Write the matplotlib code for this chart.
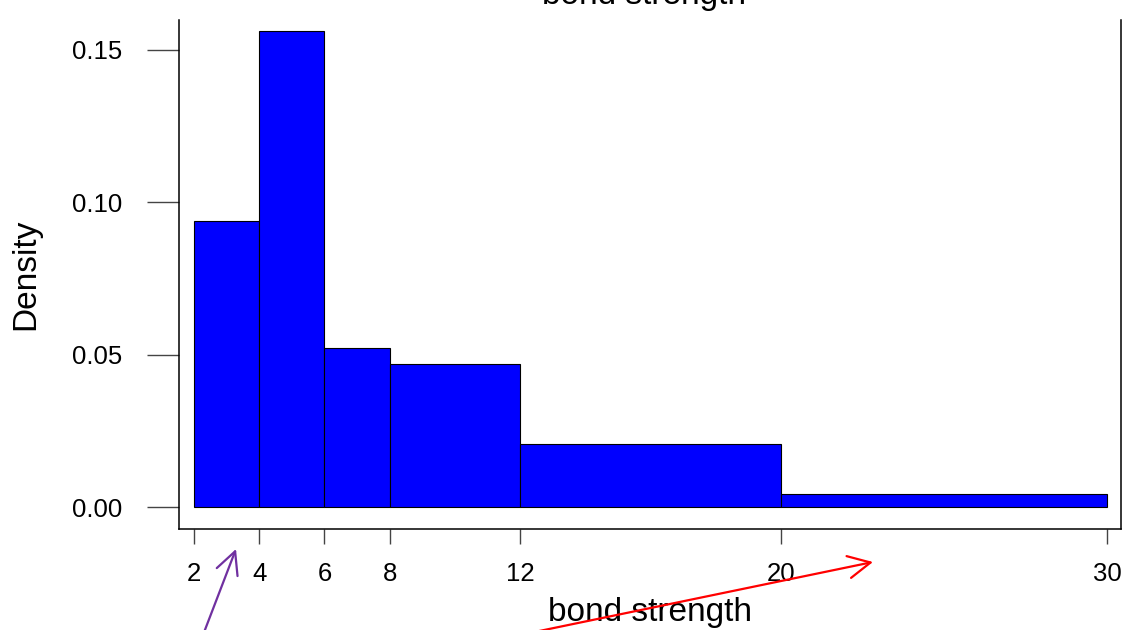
import numpy as np
import matplotlib
matplotlib.use("Agg")
import matplotlib.pyplot as plt

# histogram bins (unequal widths) and densities
bin_edges = [2, 4, 6, 8, 12, 20, 30]
densities = [0.09375, 0.15625, 0.0521, 0.0469, 0.0208, 0.0042]
x_ticks = [2, 4, 6, 8, 12, 20, 30]
y_ticks = [0.00, 0.05, 0.10, 0.15]
y_tick_labels = ["0.00", "0.05", "0.10", "0.15"]

plt.rcParams['font.family'] = ['Liberation Sans', 'DejaVu Sans']

W, H = 1124, 630
fig = plt.figure(figsize=(W / 100, H / 100), dpi=100)
ax = fig.add_axes([179 / W, (H - 529) / H, (1121 - 179) / W, (529 - 20) / H])

lefts = np.array(bin_edges[:-1])
widths = np.diff(bin_edges)
ax.bar(lefts, densities, width=widths, align='edge',
       color='#0000ff', edgecolor='black', linewidth=0.8)

ax.set_xlim(2 - 15 / 32.61, 30 + 14 / 32.61)
ax.set_ylim(-22 / 3046.7, 0.15 + 30 / 3046.7)

ax.set_xticks(x_ticks)
ax.set_xticklabels([str(t) for t in x_ticks])
ax.set_yticks(y_ticks)
ax.set_yticklabels(y_tick_labels)
ax.tick_params(axis='x', length=11, width=1, color='#444444', pad=13, labelsize=18.5)
ax.tick_params(axis='y', length=23, width=1, color='#444444', pad=18, labelsize=18.5)
for s in ax.spines.values():
    s.set_linewidth(1.1)
    s.set_color('black')
ax.spines['top'].set_visible(False)

ax.set_xlabel('bond strength', fontsize=24, labelpad=8)
ax.set_ylabel('Density', fontsize=24, labelpad=22)

# main title, mostly cut off at the top of the screenshot
fig.text(644 / W, (H - 4) / H, 'bond strength', ha='center', va='baseline', fontsize=24)

# hand-drawn annotation arrows
ax.annotate('', xy=(236 / W, (H - 549) / H), xycoords='figure fraction',
            xytext=(203 / W, (H - 635) / H), textcoords='figure fraction',
            arrowprops=dict(arrowstyle='->', color='#7030a0', lw=1.6,
                            mutation_scale=40, shrinkA=0, shrinkB=0),
            annotation_clip=False)
ax.annotate('', xy=(873 / W, (H - 562) / H), xycoords='figure fraction',
            xytext=(520 / W, (H - 635) / H), textcoords='figure fraction',
            arrowprops=dict(arrowstyle='->', color='#ff0000', lw=1.6,
                            mutation_scale=40, shrinkA=0, shrinkB=0),
            annotation_clip=False)

fig.savefig('out.png', dpi=100)
